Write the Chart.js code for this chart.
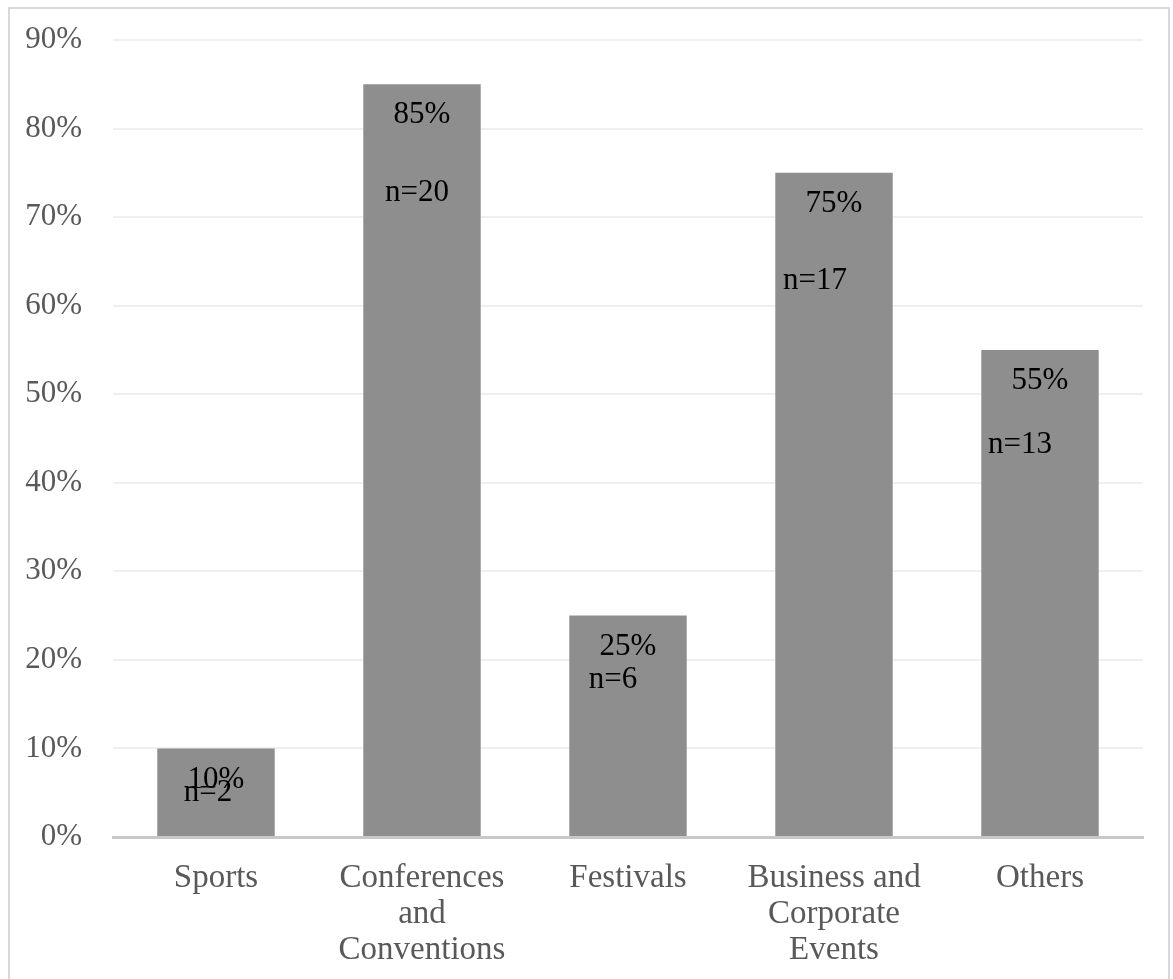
<!DOCTYPE html>
<html>
<head>
<meta charset="utf-8">
<script src="https://cdn.jsdelivr.net/npm/chart.js@4/dist/chart.umd.min.js"></script>
<style>
  html, body { margin: 0; padding: 0; background: #fff; }
  #wrap { position: relative; width: 1173px; height: 979px; overflow: hidden; }
  #frame { position: absolute; left: 8px; top: 7px; width: 1162px; height: 1000px; border: 2px solid #d9d9d9; box-sizing: border-box; }
  canvas { position: absolute; left: 0; top: 0; }
</style>
</head>
<body>
<div id="wrap">
  <div id="frame"></div>
  <canvas id="eventChart" width="1173" height="979"></canvas>
</div>
<script>
const categories = ["Sports", ["Conferences", "and", "Conventions"], "Festivals", ["Business and", "Corporate", "Events"], "Others"];
const shares = [10, 85, 25, 75, 55];
const counts = [2, 20, 6, 17, 13];
const yTicks = [0, 10, 20, 30, 40, 50, 60, 70, 80, 90];

// where each "n=" label sits relative to the top centre of its bar
const nLabelNudge = [[-8, 44], [-5, 109], [-15, 64], [-19, 108], [-20, 95]];

const serif = "'Liberation Serif', 'Times New Roman', serif";

const barLabels = {
    id: "barLabels",
    afterDatasetsDraw(chart) {
        const ctx = chart.ctx;
        const bars = chart.getDatasetMeta(0).data;
        ctx.save();
        ctx.font = `31px ${serif}`;
        ctx.fillStyle = "#000";
        ctx.textAlign = "center";
        ctx.textBaseline = "middle";
        bars.forEach((bar, i) => {
            ctx.fillText(shares[i] + "%", bar.x, bar.y + 31);
            ctx.fillText("n=" + counts[i], bar.x + nLabelNudge[i][0], bar.y + nLabelNudge[i][1]);
        });
        ctx.restore();
    }
};

new Chart(document.getElementById("eventChart"), {
    type: "bar",
    data: {
        labels: categories,
        datasets: [{
            data: shares,
            backgroundColor: "#8e8e8e",
            borderWidth: 0,
            categoryPercentage: 1,
            barPercentage: 0.57
        }]
    },
    options: {
        responsive: false,
        animation: false,
        layout: { padding: { top: 40, right: 30, left: 0, bottom: 0 } },
        plugins: {
            legend: { display: false },
            tooltip: { enabled: false }
        },
        scales: {
            x: {
                grid: { display: false },
                border: { display: true, color: "#c8c8c8", width: 3 },
                ticks: {
                    color: "#595959",
                    font: { family: serif, size: 33, lineHeight: 1.09 },
                    padding: 15,
                    maxRotation: 0,
                    autoSkip: false
                },
                afterFit: s => { s.height = 142; }
            },
            y: {
                min: 0,
                max: 90,
                afterBuildTicks: s => { s.ticks = yTicks.map(v => ({ value: v })); },
                grid: { color: "#efefef", lineWidth: 2, drawTicks: false },
                border: { display: false },
                ticks: {
                    color: "#595959",
                    font: { family: serif, size: 31 },
                    padding: 31,
                    callback: v => v + "%"
                },
                afterFit: s => {
                    s.width = 113;
                    s.paddingTop = 0;
                    s.paddingBottom = 0;
                }
            }
        }
    },
    plugins: [barLabels]
});
</script>
</body>
</html>
